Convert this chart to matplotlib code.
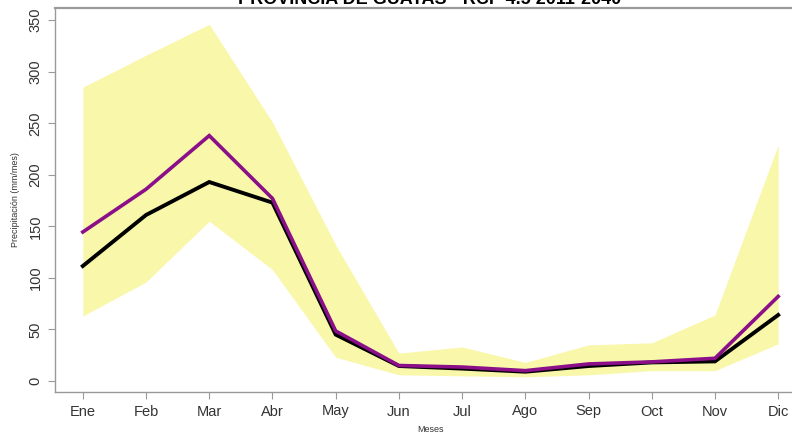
import matplotlib
matplotlib.use("Agg")
import matplotlib.pyplot as plt

# --- datos ---
meses = ["Ene", "Feb", "Mar", "Abr", "May", "Jun", "Jul", "Ago", "Sep", "Oct", "Nov", "Dic"]
x = list(range(1, 13))
banda_max = [285, 316, 346, 251, 132, 27, 33, 18, 35, 37, 64, 229]
banda_min = [63, 96, 155, 108, 23, 6, 5, 4, 6, 10, 10, 36]
linea_negra = [111.5, 161, 193, 173, 45, 14.5, 12, 9, 14.5, 18, 19, 64]
linea_morada = [144.5, 186, 238, 177, 48.5, 15, 13.5, 10, 16.5, 18.5, 22, 82]
y_ticks = [0, 50, 100, 150, 200, 250, 300, 350]

COLOR_BANDA = "#F9F7AA"
COLOR_EJE = "#9A9A9A"
COLOR_TEXTO = "#333333"

plt.rcParams["font.family"] = ["Liberation Sans", "DejaVu Sans"]

fig = plt.figure(figsize=(7.92, 4.38), dpi=100)
W, H = 792, 438
ax = fig.add_axes([55 / W, (H - 392) / H, 751 / W, 384 / H])

ax.fill_between(x, banda_min, banda_max, color=COLOR_BANDA, linewidth=0)
ax.plot(x, linea_negra, color="black", linewidth=2.8, solid_joinstyle="miter")
ax.plot(x, linea_morada, color="#8A0F88", linewidth=2.6, solid_joinstyle="miter")

ax.set_xlim(0.56, 12.44)
ax.set_ylim(-10.7, 361.8)
ax.set_xticks(x)
ax.set_xticklabels(meses, fontsize=10.5, color=COLOR_TEXTO)
ax.set_yticks(y_ticks)
ax.set_yticklabels([str(v) for v in y_ticks], fontsize=10.5, color=COLOR_TEXTO,
                   rotation=90, va="center")

ax.tick_params(axis="both", direction="out", length=5, width=0.8, color=COLOR_EJE)
ax.tick_params(axis="x", pad=4)
ax.tick_params(axis="y", pad=4)

for lado in ["left", "bottom", "top"]:
    ax.spines[lado].set_color(COLOR_EJE)
    ax.spines[lado].set_linewidth(1.0)
ax.spines["top"].set_linewidth(1.6)
ax.spines["right"].set_visible(False)

ax.set_xlabel("Meses", fontsize=6.5, color=COLOR_TEXTO, labelpad=5)
ax.set_ylabel("Precipitación (mm/mes)", fontsize=6.5, color=COLOR_TEXTO, labelpad=6)

# titulo recortado en el borde superior
fig.text(430 / W, 1.0, "PROVINCIA DE GUAYAS - RCP 4.5 2011-2040", ha="center", va="center",
         fontsize=13, fontweight="bold", color="black")

fig.savefig("out.png", dpi=100)
